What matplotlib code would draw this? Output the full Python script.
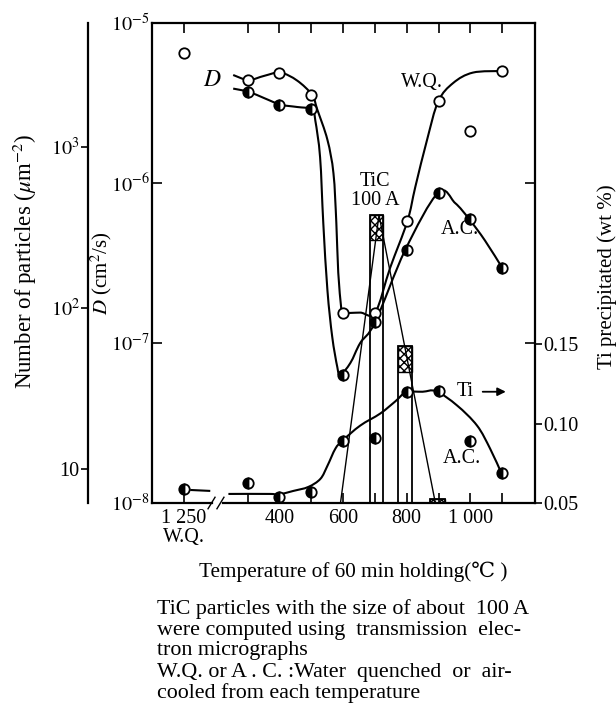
import numpy as np
import matplotlib
matplotlib.use("Agg")
import matplotlib.pyplot as plt
from matplotlib.path import Path
from matplotlib.patches import PathPatch

# ---------------- data ----------------
# x positions: 100 stands for "1 250 W.Q.", the rest are holding temperatures (C)
pt_T = [100, 300, 400, 500, 600, 700, 800, 900, 1000, 1100]
wq_D = [6.46e-6, 4.41e-6, 4.9e-6, 3.55e-6, 1.55e-7, 1.55e-7, 5.75e-7, 3.24e-6, 2.11e-6, 5.0e-6]
ac_T = [300, 400, 500, 600, 700, 800, 900, 1000, 1100]
ac_D = [3.72e-6, 3.09e-6, 2.88e-6, 6.3e-8, 1.35e-7, 3.8e-7, 8.7e-7, 5.96e-7, 2.95e-7]
ti_wt = [0.0589, 0.0627, 0.0538, 0.057, 0.0892, 0.0911, 0.1196, 0.1203, 0.0892, 0.069]

# hand drawn fitted curves (trace points)
wq_curve_T = [255, 303, 353, 403, 456, 503, 519, 551, 570, 579, 585, 594, 597,
              654, 701, 748, 802, 827, 864, 899, 946, 1008, 1100]
wq_curve_logD = [-5.325, -5.356, -5.33, -5.31, -5.36, -5.45, -5.54, -5.73, -5.94,
                 -6.25, -6.56, -6.775, -6.81, -6.81, -6.81, -6.53, -6.24, -6.025,
                 -5.73, -5.49, -5.375, -5.31, -5.30]
ac_curve_T = [255, 303, 353, 403, 456, 503, 513, 528, 538, 551, 566, 582, 591,
              623, 654, 701, 795, 899, 952, 996, 1046, 1100]
ac_curve_logD = [-5.41, -5.43, -5.47, -5.51, -5.525, -5.54, -5.61, -5.84, -6.25,
                 -6.67, -6.96, -7.15, -7.20, -7.125, -7.0, -6.87, -6.42, -6.06,
                 -6.125, -6.225, -6.36, -6.53]
ti_curve1_T = [120, 183]
ti_curve1_wt = [0.0582, 0.0576]
ti_curve2_T = [240, 372, 394, 444, 491, 529, 551, 576, 598, 654, 717, 764, 798,
               850, 893, 958, 1021, 1062, 1097]
ti_curve2_wt = [0.0557, 0.0557, 0.0552, 0.0576, 0.0601, 0.0652, 0.0734, 0.0842,
                0.0892, 0.0987, 0.1063, 0.1139, 0.1196, 0.1200, 0.1203, 0.1114,
                0.0987, 0.0842, 0.069]

# TiC (100 A) particle counts
tic_T = [706, 795, 897]
tic_width = [41, 44, 47]
tic_N = [378, 58, 6.5]
tic_N_low = [263, 40, 6.15]
tri_T = [592, 713, 890]
tri_N = [6.15, 378, 6.15]

xtick_pos = [100, 300, 400, 500, 600, 700, 800, 900, 1000, 1100]
xtick_lab = ["1 250\nW.Q.", "", "400", "", "600", "", "800", "", "1 000", ""]

caption = ["TiC particles with the size of about  100 A",
           "were computed using  transmission  elec-",
           "tron micrographs",
           "W.Q. or A . C. :Water  quenched  or  air-",
           "cooled from each temperature"]


def smooth_path(xs, ys, logy=False):
    # Catmull-Rom through the trace points, handed to matplotlib as bezier
    pts = np.column_stack([np.asarray(xs, float), np.asarray(ys, float)])
    verts = [pts[0]]
    codes = [Path.MOVETO]
    n = len(pts)
    for i in range(n - 1):
        p0 = pts[max(i - 1, 0)]
        p1 = pts[i]
        p2 = pts[i + 1]
        p3 = pts[min(i + 2, n - 1)]
        verts += [p1 + (p2 - p0) / 6, p2 - (p3 - p1) / 6, p2]
        codes += [Path.CURVE4] * 3
    verts = np.array(verts)
    if logy:
        verts[:, 1] = 10 ** verts[:, 1]
    return Path(verts, codes)


# ---------------- plot ----------------
plt.rcParams["font.family"] = ["Liberation Serif", "DejaVu Serif", "DejaVu Sans"]
plt.rcParams["mathtext.fontset"] = "stix"
plt.rcParams["font.size"] = 14

W, H = 616, 716
fig = plt.figure(figsize=(W / 100, H / 100), dpi=100)
fig.set_facecolor("white")
ax = fig.add_axes([152 / W, 1 - 503 / H, 383 / W, 480 / H])
ax_n = ax.twinx()
ax_t = ax.twinx()
ax_n.set_zorder(1)
ax.set_zorder(2)
ax_t.set_zorder(3)
ax.patch.set_visible(False)

lw = 1.5
ms = 7.5
fs_tick = 14.5
fs_text = 15

# D axis
ax.set_yscale("log")
ax.set_xlim(0, 1203)
ax.set_ylim(1e-8, 1e-5)
ax.add_patch(PathPatch(smooth_path(wq_curve_T, wq_curve_logD, True), fill=False, lw=lw, color="k"))
ax.add_patch(PathPatch(smooth_path(ac_curve_T, ac_curve_logD, True), fill=False, lw=lw, color="k"))
ax.plot(pt_T, wq_D, "o", ms=ms, mfc="white", mec="k", mew=1.3, zorder=5)
ax.plot(ac_T, ac_D, "o", ms=ms, fillstyle="left", mfc="k", mfcalt="white", mec="k", mew=1.3, zorder=5)

for s in ["left", "top", "right"]:
    ax.spines[s].set_linewidth(1.6)
ax.spines["bottom"].set_visible(False)
xt = ax.get_xaxis_transform()
ax.plot([0, 190], [0, 0], color="k", lw=1.6, transform=xt, clip_on=False)
ax.plot([222, 1203], [0, 0], color="k", lw=1.6, transform=xt, clip_on=False)
ax.plot([176, 198], [-0.012, 0.012], color="k", lw=1.0, transform=xt, clip_on=False)
ax.plot([204, 226], [-0.012, 0.012], color="k", lw=1.0, transform=xt, clip_on=False)

ax.set_xticks(xtick_pos)
ax.set_xticklabels(xtick_lab, fontsize=fs_tick, linespacing=1.0)
ax.minorticks_off()
ax.set_yticks([1e-8, 1e-7, 1e-6, 1e-5])
ax.set_yticklabels([r"$10^{-8}$", r"$10^{-7}$", r"$10^{-6}$", r"$10^{-5}$"], fontsize=fs_tick)
ax.tick_params(axis="x", direction="in", top=True, bottom=True, length=7, width=1.2, pad=4)
ax.tick_params(axis="y", direction="in", left=True, right=True, length=7, width=1.2, pad=2,
               labelleft=True, labelright=False)

# Number of particles axis (far left)
ax_n.set_yscale("log")
ax_n.set_ylim(6.15, 5890)
ax_n.yaxis.tick_left()
for s in ["top", "right", "bottom"]:
    ax_n.spines[s].set_visible(False)
ax_n.spines["left"].set_position(("outward", 46))
ax_n.spines["left"].set_linewidth(1.6)
ax_n.bar(tic_T, np.array(tic_N) - 6.15, width=tic_width, bottom=6.15, fill=False,
         edgecolor="k", lw=1.3)
ax_n.bar(tic_T, np.array(tic_N) - np.array(tic_N_low), width=tic_width, bottom=tic_N_low,
         fill=False, edgecolor="k", lw=1.0, hatch="xxxx")
ax_n.plot(tri_T, tri_N, color="k", lw=1.0)
ax_n.minorticks_off()
ax_n.set_yticks([10, 100, 1000])
ax_n.set_yticklabels(["10", r"$10^2$", r"$10^3$"], fontsize=fs_tick)
ax_n.tick_params(axis="y", direction="out", length=5, width=1.2, pad=1)

# Ti precipitated axis (right)
ax_t.set_ylim(0.05, 0.352)
for s in ["top", "left", "bottom", "right"]:
    ax_t.spines[s].set_visible(False)
ax_t.add_patch(PathPatch(smooth_path(ti_curve1_T, ti_curve1_wt), fill=False, lw=lw, color="k"))
ax_t.add_patch(PathPatch(smooth_path(ti_curve2_T, ti_curve2_wt), fill=False, lw=lw, color="k"))
ax_t.plot(pt_T, ti_wt, "o", ms=ms, fillstyle="left", mfc="k", mfcalt="white", mec="k",
          mew=1.3, zorder=5, clip_on=False)
ax_t.set_yticks([0.05, 0.10, 0.15])
ax_t.set_yticklabels(["0.05", "0.10", "0.15"], fontsize=fs_tick)
ax_t.tick_params(axis="y", direction="out", length=5, width=1.2, pad=1)

# annotations
ax.text(190, 10 ** -5.36, "$D$", fontsize=17, ha="center", va="center")
ax.text(849, 10 ** -5.37, "W.Q.", fontsize=fs_tick, ha="center", va="center")
ax.text(701, 10 ** -6.05, "TiC\n100 A", fontsize=fs_tick, ha="center", va="center", linespacing=1.05)
ax.text(968, 10 ** -6.29, "A.C.", fontsize=fs_tick, ha="center", va="center")
ax_t.text(975, 0.0778, "A.C.", fontsize=fs_tick, ha="center", va="center")
ax_t.text(983, 0.120, "Ti", fontsize=fs_tick, ha="center", va="center")
ax_t.annotate("", xy=(1120, 0.120), xytext=(1030, 0.120),
              arrowprops=dict(arrowstyle="-|>", color="k", lw=1.3, mutation_scale=12))

# axis titles and caption
fig.text(25 / W, 1 - 261 / H, r"Number of particles ($\mu$m$^{-2}$)", rotation=90,
         ha="center", va="center", fontsize=16.5)
fig.text(101 / W, 1 - 273 / H, r"$D$ (cm$^2$/s)", rotation=90, ha="center", va="center",
         fontsize=fs_text)
fig.text(607 / W, 1 - 277 / H, "Ti precipitated (wt %)", rotation=90, ha="center",
         va="center", fontsize=fs_text)
fig.text(353 / W, 1 - 572 / H, "Temperature of 60 min holding(\u2103 )", ha="center",
         va="center", fontsize=15.3)
for i, line in enumerate(caption):
    fig.text(157 / W, 1 - (609 + 21 * i) / H, line, ha="left", va="center", fontsize=15.8)

fig.savefig("out.png", dpi=100, facecolor="white")
